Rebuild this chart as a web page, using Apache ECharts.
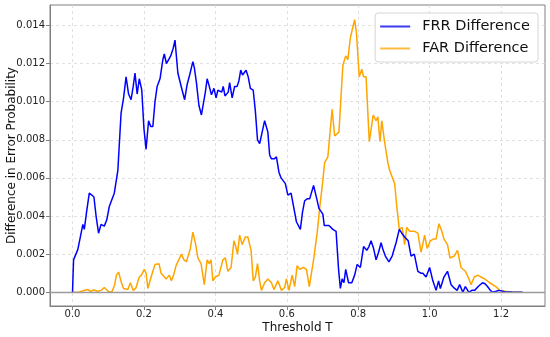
<!DOCTYPE html>
<html>
<head>
<meta charset="utf-8">
<script src="https://cdn.jsdelivr.net/npm/echarts@6/dist/echarts.min.js"></script>
<style>html,body{margin:0;padding:0;background:#fff}#c{width:550px;height:337px}</style>
</head>
<body>
<div id="c"></div>
<script>
// Threshold values and differences (in units of 1e-3)
const frrT = [0.000,0.003,0.015,0.029,0.033,0.040,0.047,0.054,0.060,0.066,0.073,0.080,0.089,0.096,0.103,0.117,0.127,0.136,0.143,0.150,0.157,0.164,0.170,0.175,0.181,0.187,0.194,0.200,0.206,0.213,0.219,0.225,0.231,0.237,0.245,0.253,0.257,0.263,0.268,0.275,0.282,0.287,0.295,0.300,0.307,0.314,0.321,0.328,0.333,0.337,0.341,0.347,0.354,0.361,0.366,0.372,0.377,0.383,0.389,0.396,0.402,0.407,0.412,0.418,0.422,0.427,0.431,0.436,0.440,0.447,0.454,0.461,0.466,0.471,0.476,0.479,0.486,0.492,0.498,0.506,0.512,0.518,0.524,0.531,0.538,0.547,0.552,0.557,0.565,0.571,0.578,0.584,0.589,0.596,0.603,0.612,0.618,0.627,0.632,0.638,0.644,0.650,0.657,0.664,0.668,0.675,0.684,0.690,0.694,0.701,0.705,0.709,0.718,0.729,0.738,0.745,0.750,0.755,0.760,0.765,0.773,0.782,0.790,0.797,0.806,0.815,0.824,0.830,0.836,0.843,0.850,0.857,0.864,0.870,0.876,0.886,0.895,0.906,0.915,0.922,0.930,0.940,0.948,0.957,0.967,0.975,0.981,0.990,1.000,1.009,1.018,1.025,1.030,1.040,1.050,1.060,1.070,1.077,1.084,1.093,1.100,1.110,1.118,1.126,1.136,1.148,1.155,1.162,1.170,1.176,1.186,1.195,1.210,1.230,1.260];
const frrV = [0,1.7,2.25,3.56,3.3,4.3,5.2,5.1,5.0,4.0,3.1,3.56,3.47,3.8,4.5,5.2,6.4,9.4,10.2,11.3,10.4,10.1,10.8,11.5,10.4,11.2,10.6,8.6,7.5,9.0,8.7,8.7,10.0,10.8,11.2,12.2,12.5,12.0,11.95,12.4,12.8,13.23,11.5,11.5,10.6,10.1,10.9,11.4,11.4,12.1,11.8,11.0,9.8,9.3,9.35,10.5,11.2,10.8,10.36,10.7,10.2,10.6,10.5,10.5,10.8,10.3,10.2,10.5,11.0,10.2,10.8,10.8,11.1,11.66,11.4,11.3,11.65,11.3,10.7,10.6,9.5,8.0,7.8,8.4,9.0,8.4,7.2,7.0,7.0,7.1,6.3,6.0,5.9,5.7,5.1,5.2,4.6,3.7,3.8,3.3,4.2,4.8,4.9,4.9,4.9,5.6,4.9,4.4,4.4,4.1,3.5,3.6,3.5,3.3,3.2,1.2,0.2,0.7,0.5,1.2,0.5,0.5,0.9,1.46,1.3,2.4,2.2,2.4,2.7,2.3,1.7,2.1,2.6,2.2,1.9,1.6,1.9,2.6,3.3,3.1,2.9,2.7,1.9,2.0,1.1,1.0,1.0,0.8,1.3,0.6,0.1,0.6,0.2,0.8,1.1,0.4,0.2,0.1,0.4,0.0,0.3,0.0,0.1,0.1,0.3,0.5,0.45,0.3,0.1,0.0,0.05,0.1,0.03,0.01,0.0];
const farT = [0.000,0.020,0.030,0.043,0.050,0.060,0.070,0.080,0.089,0.100,0.110,0.118,0.123,0.129,0.137,0.143,0.147,0.155,0.162,0.170,0.177,0.187,0.193,0.201,0.206,0.211,0.220,0.231,0.242,0.248,0.255,0.262,0.271,0.277,0.283,0.290,0.305,0.312,0.319,0.330,0.337,0.345,0.351,0.360,0.364,0.369,0.377,0.383,0.388,0.393,0.400,0.410,0.421,0.428,0.435,0.444,0.452,0.457,0.462,0.468,0.475,0.484,0.491,0.500,0.506,0.512,0.518,0.524,0.529,0.538,0.547,0.557,0.564,0.575,0.585,0.594,0.599,0.606,0.615,0.622,0.629,0.636,0.646,0.655,0.663,0.675,0.685,0.692,0.700,0.706,0.715,0.727,0.734,0.746,0.757,0.765,0.771,0.778,0.783,0.790,0.795,0.803,0.810,0.815,0.822,0.831,0.836,0.842,0.850,0.855,0.861,0.866,0.873,0.883,0.888,0.902,0.908,0.915,0.923,0.930,0.936,0.944,0.958,0.967,0.976,0.986,0.993,1.002,1.011,1.018,1.026,1.034,1.040,1.050,1.057,1.069,1.078,1.088,1.100,1.110,1.116,1.125,1.135,1.144,1.154,1.168,1.185,1.196,1.210,1.230,1.260];
const farV = [0,0.02,0.08,0.15,0.05,0.12,0.05,0.1,0.25,0.05,0.0,0.4,0.9,1.06,0.5,0.2,0.3,0.15,0.5,0.1,0.2,0.8,0.9,1.2,1.0,0.2,0.8,1.46,1.5,1.0,0.85,0.7,0.9,0.6,0.9,1.4,2.0,1.7,1.6,2.3,3.15,2.5,1.8,1.5,1.6,0.4,1.7,1.5,1.7,0.6,0.8,0.9,1.7,1.8,1.1,1.3,2.7,2.4,2.0,3.0,2.5,2.9,2.9,2.2,0.6,0.8,1.5,0.6,0.1,0.5,0.7,0.5,0.14,0.6,0.1,0.25,0.7,0.1,0.9,0.3,1.4,1.2,1.3,1.2,0.3,1.7,3.1,4.4,5.7,6.8,7.1,9.6,8.2,8.4,11.9,12.4,12.2,13.35,13.3,14.3,13.6,11.3,11.7,11.3,11.3,7.9,8.0,9.3,9.0,9.2,7.9,9.0,8.0,6.8,6.4,5.7,4.5,3.3,3.4,2.5,3.4,3.2,3.2,3.1,2.1,3.0,2.3,2.7,2.8,2.8,3.6,3.2,2.8,2.5,1.8,1.9,2.2,1.3,1.1,0.7,0.4,0.8,0.9,0.8,0.7,0.5,0.3,0.1,0.05,0.02,0.0];
const xTicks = [0.0,0.2,0.4,0.6,0.8,1.0,1.2];
const yTicks = [0.000,0.002,0.004,0.006,0.008,0.010,0.012,0.014];
const seriesNames = ['FRR Difference','FAR Difference'];

const pairs = (t, v) => t.map((x, i) => [x, v[i] / 1000]);
const chart = echarts.init(document.getElementById('c'), null, {renderer: 'canvas'});
const font = 'DejaVu Sans';
const gridLine = {show: true, lineStyle: {color: '#d9d9d9', type: [3, 3], width: 0.8}};
chart.setOption({
  animation: false,
  backgroundColor: '#fff',
  grid: {left: 50, right: 5, top: 5, bottom: 31, outerBoundsMode: 'none', containLabel: false,
    show: true, borderColor: '#808080', borderWidth: 1, backgroundColor: 'transparent'},
  legend: {
    orient: 'vertical', right: 12, top: 13,
    data: seriesNames,
    itemWidth: 30, itemHeight: 2, itemGap: 7,
    icon: 'rect',
    backgroundColor: 'rgba(255,255,255,0.85)', borderColor: '#d6d6d6', borderWidth: 1, borderRadius: 3,
    padding: [6, 8, 6, 5],
    textStyle: {fontFamily: font, fontSize: 14.5, color: '#111', padding: [0, 0, 0, 7]}
  },
  xAxis: {
    type: 'value', min: -0.063, max: 1.323,
    name: 'Threshold T', nameLocation: 'middle', nameGap: 16, nameMoveOverlap: false,
    nameTextStyle: {fontFamily: font, fontSize: 12, color: '#111'},
    axisLine: {show: true, onZero: false, lineStyle: {color: '#808080'}},
    axisTick: {show: true, length: 4, lineStyle: {color: '#808080'}, customValues: xTicks},
    axisLabel: {fontFamily: font, fontSize: 10, color: '#222', margin: 3, customValues: xTicks, formatter: v => v.toFixed(1)},
    splitLine: gridLine
  },
  yAxis: {
    type: 'value', min: -0.00072, max: 0.01507,
    name: 'Difference in Error Probability', nameLocation: 'middle', nameGap: 32, nameMoveOverlap: false,
    nameTextStyle: {fontFamily: font, fontSize: 12, color: '#111'},
    axisLine: {show: true, onZero: false, lineStyle: {color: '#808080'}},
    axisTick: {show: true, length: 4, lineStyle: {color: '#808080'}, customValues: yTicks},
    axisLabel: {fontFamily: font, fontSize: 10, color: '#222', margin: 5, customValues: yTicks, formatter: v => v.toFixed(3)},
    splitLine: gridLine
  },
  series: [
    {
      name: seriesNames[0], type: 'line', data: pairs(frrT, frrV), showSymbol: false, symbol: 'none',
      lineStyle: {color: '#0000ff', width: 1.5}, itemStyle: {color: '#3a3af0'}, z: 3,
      markLine: {silent: true, symbol: ['none', 'none'], label: {show: false},
        lineStyle: {color: '#9a9a9a', type: 'solid', width: 1.3}, data: [{yAxis: 0}]}
    },
    {
      name: seriesNames[1], type: 'line', data: pairs(farT, farV), showSymbol: false, symbol: 'none',
      lineStyle: {color: '#ffa500', width: 1.5}, itemStyle: {color: '#fdbb3f'}, z: 2
    }
  ]
});
</script>
</body>
</html>
